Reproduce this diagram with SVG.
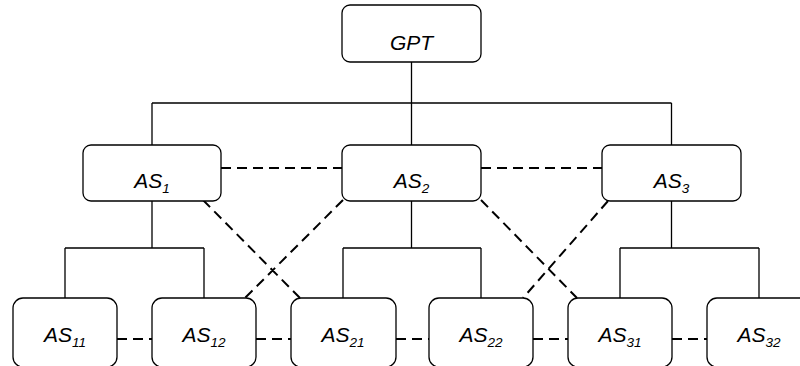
<svg xmlns="http://www.w3.org/2000/svg" width="800" height="366" viewBox="0 0 800 366">
<style>
.box{fill:#fff;stroke:#000;stroke-width:1.3}
.solid{fill:none;stroke:#000;stroke-width:1.3}
.dash{fill:none;stroke:#000;stroke-width:2;stroke-dasharray:10 6}
text{font-family:"Liberation Sans",Arial,sans-serif;font-style:italic;font-size:21px;fill:#000;text-anchor:middle}
.sub{font-size:13.5px}
</style>
<rect width="800" height="366" fill="#fff"/>
<g id="connectors">
<path class="solid" d="M411.5 62V103M152 103H671.5M152 103V145M411.5 103V145M671.5 103V145"/>
<path class="solid" d="M152 201V248M65 248H204M65 248V298M204 248V298"/>
<path class="solid" d="M411.5 201V248M343 248H481M343 248V298M481 248V298"/>
<path class="solid" d="M671.5 201V248M620 248H759M620 248V298M759 248V298"/>
<path class="dash" d="M221 168H342M481 168H602"/>
<path class="dash" d="M117 339H152M256 339H291M396 339H429M533 339H568M672 339H707"/>
<path class="dash" d="M203 200L300 298M343 200L245 298M481 200L577 298M608 201L523 298"/>
</g>
<g id="GPT"><rect class="box" x="342" y="5" width="139" height="57" rx="8"/><text x="411.5" y="50">GPT</text></g>
<g id="AS1"><rect class="box" x="83" y="145" width="138" height="56" rx="8"/><text x="152" y="188">AS<tspan class="sub" dy="5">1</tspan></text></g>
<g id="AS2"><rect class="box" x="342" y="145" width="139" height="56" rx="8"/><text x="411.5" y="188">AS<tspan class="sub" dy="5">2</tspan></text></g>
<g id="AS3"><rect class="box" x="602" y="145" width="139" height="56" rx="8"/><text x="671.5" y="188">AS<tspan class="sub" dy="5">3</tspan></text></g>
<g id="AS11"><rect class="box" x="13" y="298" width="104" height="69" rx="10"/><text x="65" y="342">AS<tspan class="sub" dy="5">11</tspan></text></g>
<g id="AS12"><rect class="box" x="152" y="298" width="104" height="69" rx="10"/><text x="204" y="342">AS<tspan class="sub" dy="5">12</tspan></text></g>
<g id="AS21"><rect class="box" x="291" y="298" width="105" height="69" rx="10"/><text x="343" y="342">AS<tspan class="sub" dy="5">21</tspan></text></g>
<g id="AS22"><rect class="box" x="429" y="298" width="104" height="69" rx="10"/><text x="481" y="342">AS<tspan class="sub" dy="5">22</tspan></text></g>
<g id="AS31"><rect class="box" x="568" y="298" width="104" height="69" rx="10"/><text x="620" y="342">AS<tspan class="sub" dy="5">31</tspan></text></g>
<g id="AS32"><rect class="box" x="707" y="298" width="104" height="69" rx="10"/><text x="759" y="342">AS<tspan class="sub" dy="5">32</tspan></text></g>
</svg>
